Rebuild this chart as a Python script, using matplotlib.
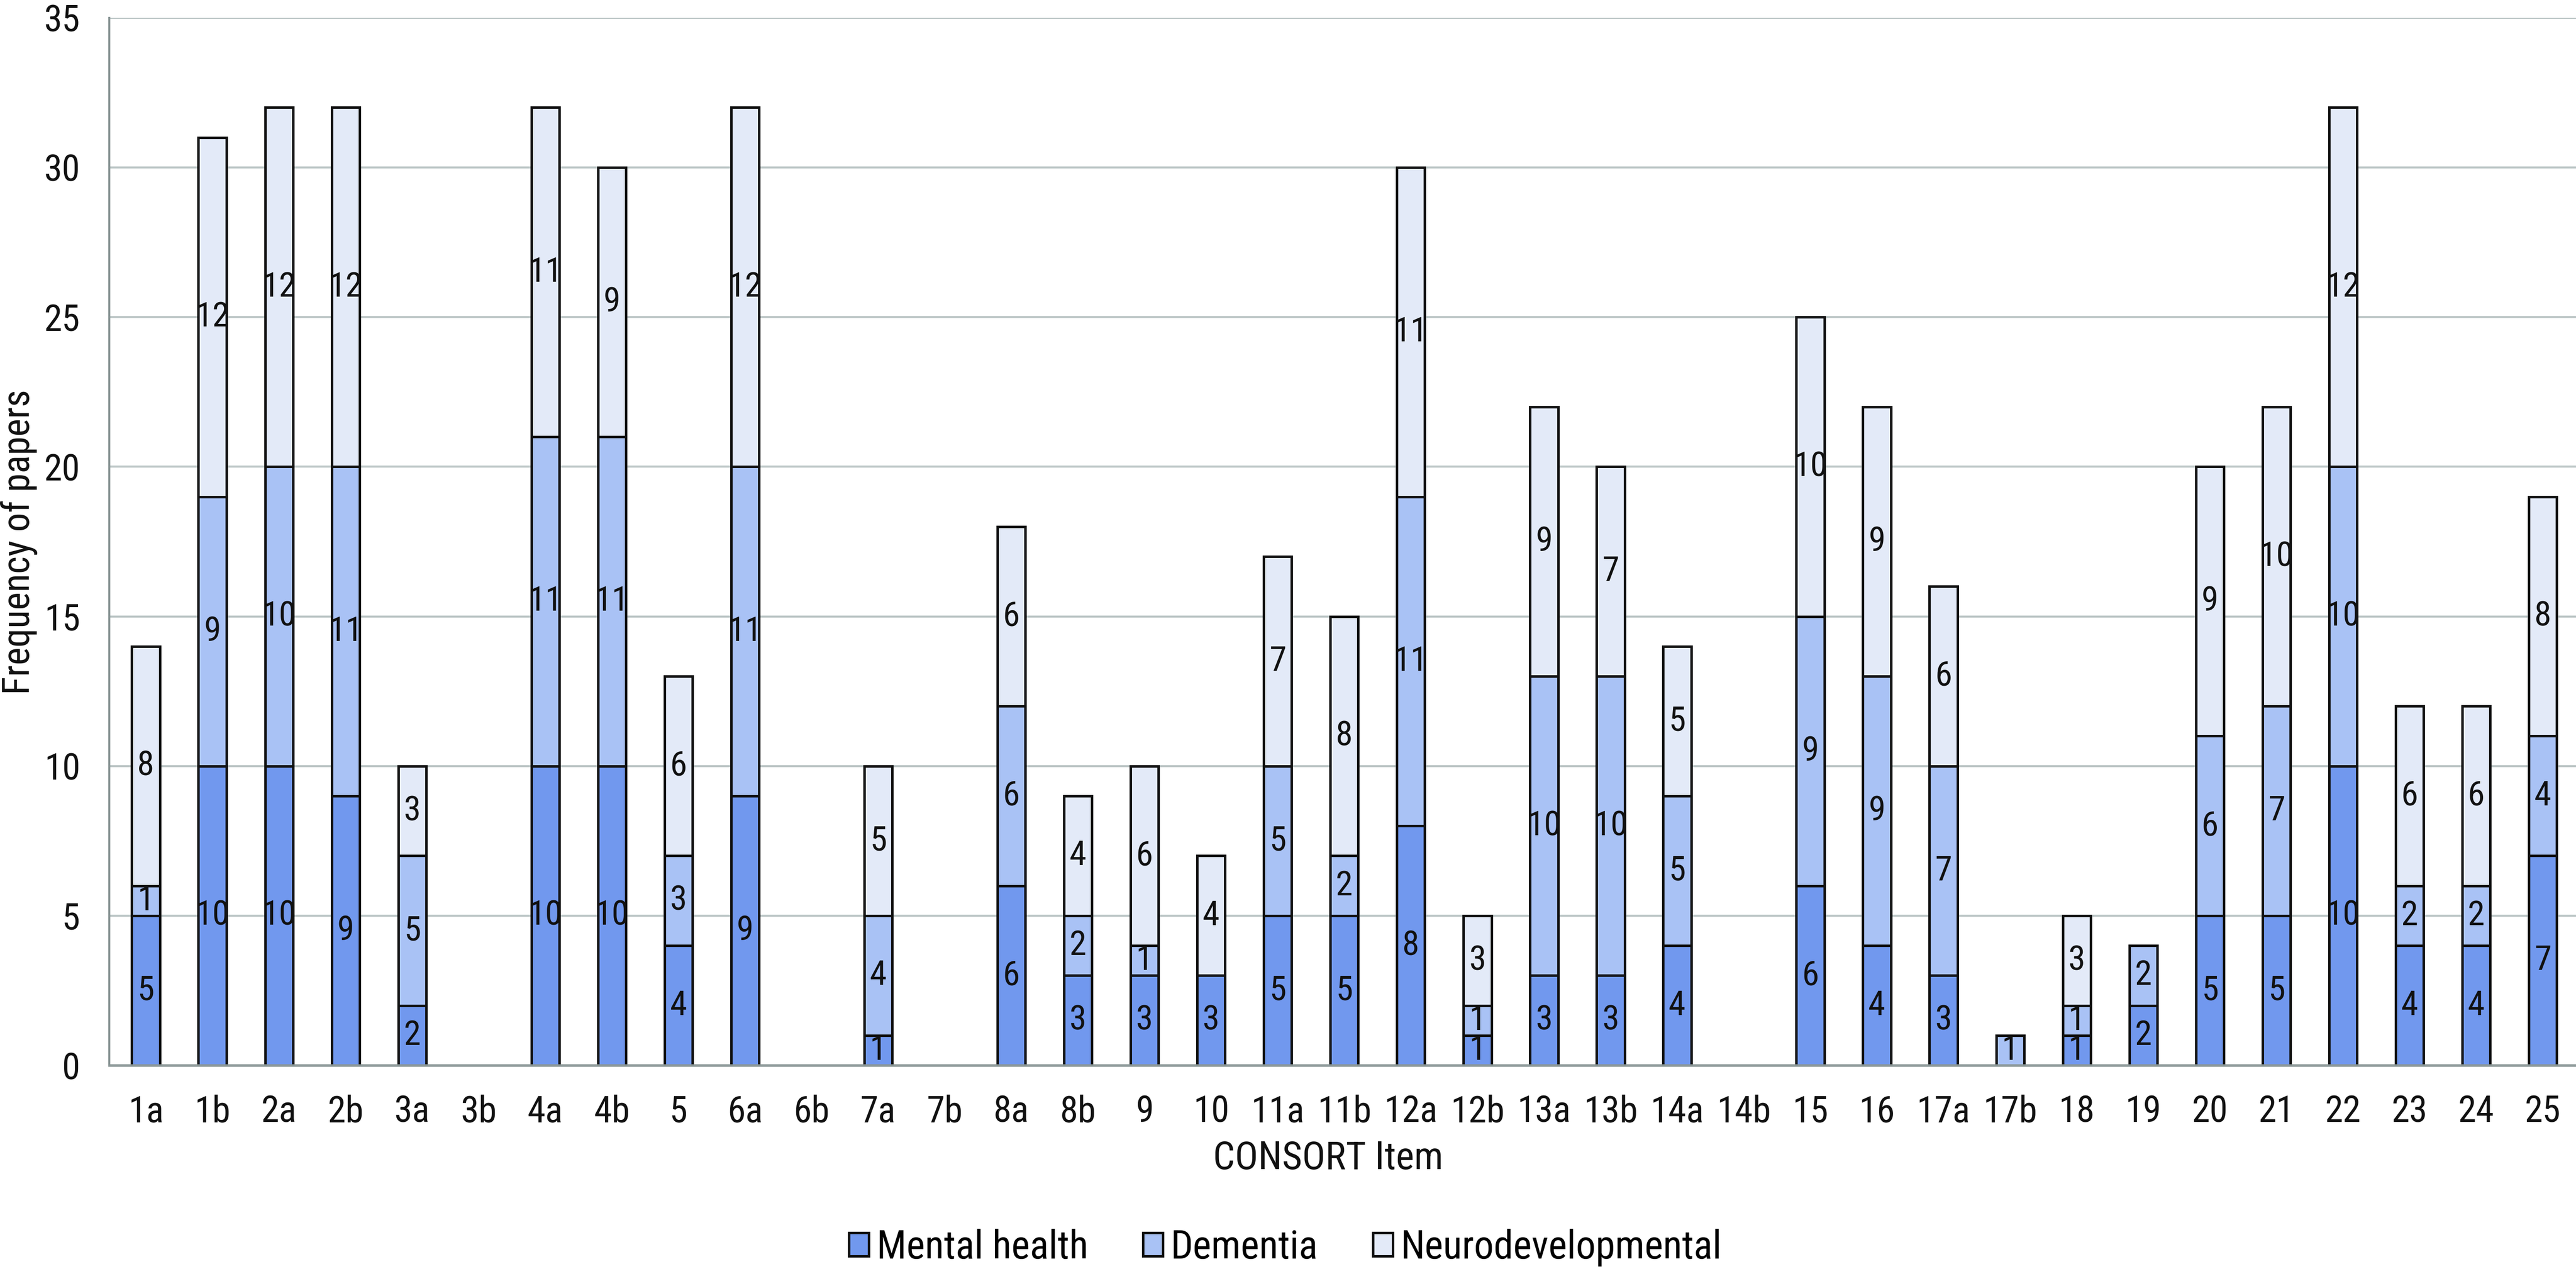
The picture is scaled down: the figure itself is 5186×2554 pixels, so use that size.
import numpy as np
import matplotlib.pyplot as plt

# ----- data -----
items = ["1a", "1b", "2a", "2b", "3a", "3b", "4a", "4b", "5", "6a", "6b", "7a", "7b",
         "8a", "8b", "9", "10", "11a", "11b", "12a", "12b", "13a", "13b", "14a", "14b",
         "15", "16", "17a", "17b", "18", "19", "20", "21", "22", "23", "24", "25"]
mental_health = [5, 10, 10, 9, 2, 0, 10, 10, 4, 9, 0, 1, 0,
                 6, 3, 3, 3, 5, 5, 8, 1, 3, 3, 4, 0,
                 6, 4, 3, 0, 1, 2, 5, 5, 10, 4, 4, 7]
dementia = [1, 9, 10, 11, 5, 0, 11, 11, 3, 11, 0, 4, 0,
            6, 2, 1, 0, 5, 2, 11, 1, 10, 10, 5, 0,
            9, 9, 7, 1, 1, 2, 6, 7, 10, 2, 2, 4]
neurodevelopmental = [8, 12, 12, 12, 3, 0, 11, 9, 6, 12, 0, 5, 0,
                      6, 4, 6, 4, 7, 8, 11, 3, 9, 7, 5, 0,
                      10, 9, 6, 0, 3, 0, 9, 10, 12, 6, 6, 8]

series = [("Mental health", mental_health, "#7198EE"),
          ("Dementia", dementia, "#A9C2F5"),
          ("Neurodevelopmental", neurodevelopmental, "#E3EAF8")]

plt.rcParams['font.family'] = ['Roboto Condensed', 'Liberation Sans Narrow', 'DejaVu Sans']
ink = "#111111"

fig = plt.figure(figsize=(51.86, 25.54), dpi=100)
ax = fig.add_axes([0.0424, 0.1605, 0.9576, 0.8255])

x = np.arange(len(items))
bottom = np.zeros(len(items))
for name, vals, col in series:
    vals = np.array(vals)
    bars = ax.bar(x, vals, 0.42, bottom=bottom, color=col, edgecolor=ink,
                  linewidth=3.6, label=name, zorder=3)
    ax.bar_label(bars, labels=[str(v) if v > 0 else "" for v in vals],
                 label_type="center", fontsize=50, color=ink)
    bottom += vals

ax.set_xlim(-0.55, 36.5)
ax.set_ylim(0, 35)
ax.set_yticks(range(0, 36, 5))
ax.set_xticks(x)
ax.set_xticklabels(items)
ax.tick_params(axis="both", length=0, labelsize=53, colors=ink)
ax.tick_params(axis="x", pad=42)
ax.tick_params(axis="y", pad=42)
ax.grid(axis="y", color="#BCC6C6", linewidth=3, zorder=0)
for s in ["top", "right"]:
    ax.spines[s].set_visible(False)
ax.spines["left"].set_color("#8A9696")
ax.spines["left"].set_linewidth(3)
ax.spines["bottom"].set_color("#8A9696")
ax.spines["bottom"].set_linewidth(3.6)
ax.spines["left"].set_zorder(4)
ax.spines["bottom"].set_zorder(4)

fig.text(0.5155, 0.087, "CONSORT Item", fontsize=56, ha="center", va="center", color=ink)
fig.text(0.0074, 0.573, "Frequency of papers", rotation=90, fontsize=55,
         ha="center", va="center", color=ink)

fig.legend(loc="center", bbox_to_anchor=(0.499, 0.017), ncol=3, frameon=False,
           fontsize=57, handlelength=0.5, handleheight=0.55, handletextpad=0.2,
           columnspacing=1.4, borderpad=0, borderaxespad=0)

fig.savefig("out.png", dpi=100)
